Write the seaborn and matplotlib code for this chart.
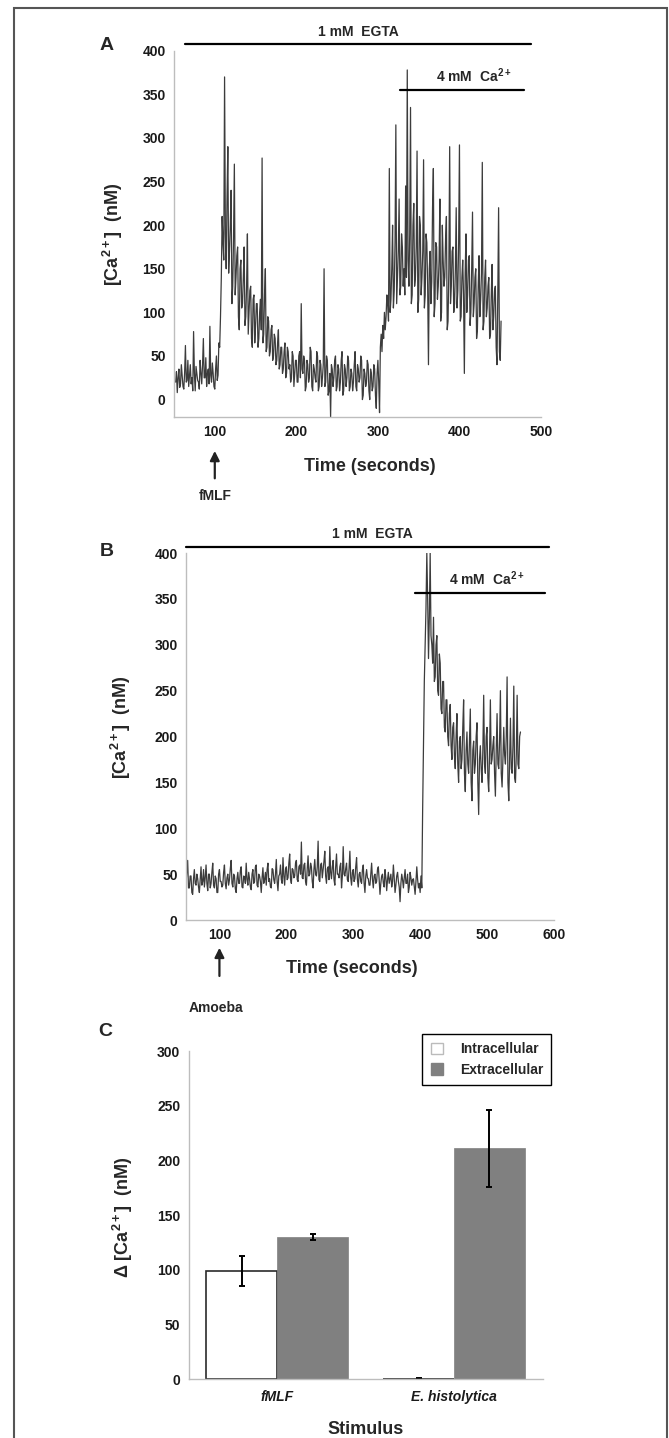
import matplotlib
matplotlib.use("Agg")
import matplotlib.pyplot as plt
from matplotlib.patches import Patch, Rectangle
import numpy as np
import pandas as pd
import seaborn as sns

# =============================================================================
# DATA
# =============================================================================
# Panel A: fMLF trace, one value per second starting at 52 s (20 s per row)
A_T0, A_STEP = 52, 1.0
ca_fmlf = [
    20, 32, 8, 25, 35, 14, 18, 40, 28, 15, 12, 30, 62, 20, 22, 45, 15, 28, 40, 18,            # 52
    25, 10, 78, 30, 10, 38, 30, 22, 20, 12, 45, 30, 18, 40, 70, 25, 25, 48, 15, 30,           # 72
    35, 18, 84, 28, 20, 42, 30, 15, 12, 35, 50, 22, 28, 65, 60, 95, 140, 210, 180, 160,       # 92
    370, 190, 150, 230, 290, 145, 170, 200, 240, 110, 130, 185, 270, 120, 140, 165, 175, 95, 80, 150,  # 112
    160, 105, 110, 140, 175, 85, 95, 130, 190, 75, 100, 125, 130, 70, 60, 115, 120, 65, 85, 110,       # 132
    110, 60, 70, 100, 115, 80, 277, 65, 75, 120, 150, 55, 60, 95, 90, 50, 55, 80, 85, 45,     # 152
    50, 75, 70, 40, 45, 65, 80, 35, 40, 60, 60, 30, 35, 55, 65, 25, 30, 60, 55, 35,           # 172
    40, 20, 25, 55, 50, 15, 30, 45, 45, 20, 20, 50, 55, 25, 110, 35, 30, 50, 45, 10,          # 192
    15, 45, 40, 20, 25, 60, 55, 15, 10, 40, 35, 25, 20, 55, 50, 10, 15, 45, 40, 15,           # 212
    25, 40, 150, 15, 20, 50, 45, 5, 10, 30, -20, 40, 35, 15, 25, 45, 50, 10, 15, 40,          # 232
    35, 10, 20, 45, 55, 5, 10, 40, 35, 15, 25, 50, 45, 10, 15, 35, 30, 10, 20, 40,            # 252
    55, 15, 10, 40, 35, 20, 25, 50, 45, 0, 5, 35, 30, 15, 20, 45, 40, 10, 0, 35,              # 272
    30, 10, 15, 40, 35, 5, -10, 30, 45, 20, -15, 60, 75, 55, 85, 70, 100, 80, 95, 120,        # 292
    110, 90, 265, 100, 115, 150, 200, 105, 125, 180, 315, 110, 140, 170, 230, 120, 130, 190, 175, 130,  # 312
    150, 120, 245, 140, 378, 160, 130, 190, 335, 110, 120, 200, 225, 130, 140, 175, 285, 100, 115, 210,  # 332
    200, 120, 140, 170, 275, 105, 120, 190, 180, 130, 40, 150, 170, 110, 135, 220, 265, 95, 110, 180,   # 352
    175, 115, 130, 160, 230, 90, 100, 200, 160, 130, 140, 185, 210, 80, 90, 150, 290, 110, 130, 170,    # 372
    175, 100, 110, 150, 220, 105, 125, 180, 292, 90, 95, 140, 160, 120, 30, 145, 190, 100, 120, 160,    # 392
    165, 85, 100, 150, 215, 95, 110, 140, 150, 70, 80, 130, 165, 95, 115, 145, 272, 80, 90, 140,        # 412
    160, 95, 105, 130, 140, 70, 75, 120, 155, 80, 95, 125, 130, 60, 40, 120, 220, 55, 45, 90,           # 432
]

# Panel B: amoeba trace, one value every 1.25 s starting at 50 s (20 s per row)
B_T0, B_STEP = 50, 1.25
ca_amoeba = [
    40, 52, 65, 35, 35, 48, 48, 30, 28, 45, 55, 40, 38, 50, 45, 36,           # 50
    30, 44, 58, 38, 42, 55, 36, 46, 60, 40, 32, 50, 50, 35, 40, 52,           # 70
    62, 38, 35, 48, 45, 30, 30, 50, 55, 42, 42, 36, 38, 52, 60, 40,           # 90
    34, 46, 50, 38, 44, 56, 65, 40, 36, 50, 48, 34, 30, 45, 52, 40,           # 110
    40, 54, 58, 36, 35, 48, 47, 40, 62, 44, 38, 52, 45, 36, 33, 50,           # 130
    55, 40, 42, 58, 60, 38, 36, 50, 48, 42, 30, 46, 57, 40, 44, 52,           # 150
    38, 55, 62, 42, 45, 36, 35, 56, 55, 44, 40, 50, 66, 42, 32, 48,           # 170
    50, 60, 44, 40, 68, 48, 38, 55, 58, 44, 46, 62, 72, 45, 40, 56,           # 190
    55, 46, 48, 62, 65, 44, 42, 58, 60, 50, 85, 46, 45, 60, 62, 42,           # 210
    38, 56, 70, 48, 50, 62, 58, 42, 35, 55, 66, 50, 48, 58, 86, 44,           # 230
    42, 60, 62, 46, 55, 64, 75, 48, 40, 56, 58, 44, 80, 52, 45, 58,           # 250
    65, 44, 38, 58, 72, 50, 50, 46, 58, 62, 35, 48, 80, 50, 48, 56,           # 270
    62, 44, 42, 56, 75, 46, 38, 52, 55, 42, 45, 58, 68, 44, 36, 50,           # 290
    52, 42, 40, 55, 60, 40, 30, 48, 55, 46, 45, 38, 38, 50, 62, 44,           # 310
    35, 48, 50, 40, 42, 55, 58, 44, 28, 40, 48, 50, 40, 36, 55, 46,           # 330
    32, 44, 52, 40, 45, 50, 36, 42, 60, 46, 30, 38, 48, 52, 42, 36,           # 350
    20, 40, 50, 44, 35, 46, 55, 40, 40, 50, 30, 36, 52, 46, 38, 44,           # 370
    45, 36, 28, 42, 58, 44, 35, 40, 30, 48, 35, 120, 190, 260, 300, 340,      # 390
    400, 350, 285, 330, 400, 310, 300, 280, 330, 260, 265, 300, 310, 250, 245, 290,   # 410
    280, 230, 225, 260, 260, 210, 205, 240, 240, 200, 190, 225, 235, 190, 175, 210,   # 430
    215, 180, 165, 200, 225, 170, 150, 195, 200, 165, 175, 210, 240, 160, 140, 185,   # 450
    205, 170, 160, 195, 230, 150, 130, 185, 195, 160, 170, 200, 215, 150, 115, 175,   # 470
    190, 165, 150, 185, 245, 170, 160, 200, 210, 155, 140, 180, 240, 170, 175, 190,   # 490
    200, 160, 135, 185, 225, 170, 165, 195, 250, 160, 145, 175, 210, 180, 170, 200,   # 510
    265, 150, 130, 175, 220, 165, 160, 190, 255, 155, 150, 180, 245, 170, 165, 200,   # 530
    205,                                                                              # 550
]

# treatment periods (seconds)
egta_a, calcium_a = (63, 488), (327, 479)
egta_b, calcium_b = (50, 593), (393, 586)

# Panel C: summary bars
stimuli = ["fMLF", "E. histolytica"]
sources = ["Intracellular", "Extracellular"]
delta_intra = [99, 0]
delta_intra_err = [13.5, 0.5]
delta_extra = [130, 211]
delta_extra_err = [2.5, 35]

# =============================================================================
# STYLE
# =============================================================================
sns.set_style("white")
plt.rcParams["font.family"] = ["Liberation Sans", "DejaVu Sans"]
plt.rcParams["font.weight"] = "bold"
plt.rcParams["axes.labelweight"] = "bold"
plt.rcParams["mathtext.fontset"] = "custom"
plt.rcParams["mathtext.rm"] = "Liberation Sans:bold"
plt.rcParams["mathtext.bf"] = "Liberation Sans:bold"
plt.rcParams["mathtext.it"] = "Liberation Sans:bold:italic"
plt.rcParams["mathtext.default"] = "bf"

SPINE = "#bdbdbd"
TRACE = "#3c3c3c"
CA_LABEL = r"[Ca$^{2+}$]  (nM)"


def style_axis(ax):
    for side in ["top", "right"]:
        ax.spines[side].set_visible(False)
    for side in ["left", "bottom"]:
        ax.spines[side].set_color(SPINE)
        ax.spines[side].set_linewidth(1.0)
    ax.tick_params(direction="in", length=4, width=1, color=SPINE,
                   labelsize=10, labelcolor="#1a1a1a", pad=6)
    for lab in ax.get_xticklabels() + ax.get_yticklabels():
        lab.set_fontweight("bold")


fig = plt.figure(figsize=(6.69, 14.38), dpi=100)

# =============================================================================
# PANEL A
# =============================================================================
ax_a = fig.add_axes([0.2601, 0.7100, 0.5486, 0.2547])
t_a = A_T0 + A_STEP * np.arange(len(ca_fmlf))
sns.lineplot(x=t_a, y=ca_fmlf, ax=ax_a, color=TRACE, lw=0.9)
ax_a.set_xlim(50, 500)
ax_a.set_ylim(-20, 400)
ax_a.set_xticks([100, 200, 300, 400, 500])
ax_a.set_yticks(np.arange(0, 401, 50))
style_axis(ax_a)
ax_a.set_xlabel("Time (seconds)", fontsize=13)
ax_a.xaxis.set_label_coords(0.534, -0.112)
ax_a.set_ylabel(CA_LABEL, fontsize=13)
ax_a.yaxis.set_label_coords(-0.134, 0.50)

ax_a.plot(egta_a, [407.5, 407.5], color="black", lw=1.6, clip_on=False)
ax_a.text(np.mean(egta_a), 413, "1 mM  EGTA", ha="center", va="bottom",
          fontsize=10, fontweight="bold")
ax_a.plot(calcium_a, [355, 355], color="black", lw=1.6, clip_on=False)
ax_a.text(418, 361, r"4 mM  Ca$^{2+}$", ha="center", va="bottom",
          fontsize=10, fontweight="bold")
ax_a.annotate("", xy=(100, -0.085), xytext=(100, -0.175),
              xycoords=("data", "axes fraction"),
              arrowprops=dict(arrowstyle="-|>", color="#222222", lw=1.6,
                              mutation_scale=14))
ax_a.text(100, -0.215, "fMLF", transform=ax_a.get_xaxis_transform(),
          ha="center", va="center", fontsize=10, fontweight="bold")

# =============================================================================
# PANEL B
# =============================================================================
ax_b = fig.add_axes([0.2780, 0.3602, 0.5500, 0.2552])
t_b = B_T0 + B_STEP * np.arange(len(ca_amoeba))
sns.lineplot(x=t_b, y=ca_amoeba, ax=ax_b, color=TRACE, lw=0.9)
ax_b.set_xlim(50, 600)
ax_b.set_ylim(0, 400)
ax_b.set_xticks([100, 200, 300, 400, 500, 600])
ax_b.set_yticks(np.arange(0, 401, 50))
style_axis(ax_b)
ax_b.set_xlabel("Time (seconds)", fontsize=13)
ax_b.xaxis.set_label_coords(0.45, -0.109)
ax_b.set_ylabel(CA_LABEL, fontsize=13)
ax_b.yaxis.set_label_coords(-0.144, 0.526)

ax_b.plot(egta_b, [406.5, 406.5], color="black", lw=1.6, clip_on=False)
ax_b.text(329, 413, "1 mM  EGTA", ha="center", va="bottom",
          fontsize=10, fontweight="bold")
ax_b.plot(calcium_b, [356, 356], color="black", lw=1.6, clip_on=False)
ax_b.text(500, 362, r"4 mM  Ca$^{2+}$", ha="center", va="bottom",
          fontsize=10, fontweight="bold")
ax_b.annotate("", xy=(100, -0.068), xytext=(100, -0.16),
              xycoords=("data", "axes fraction"),
              arrowprops=dict(arrowstyle="-|>", color="#222222", lw=1.6,
                              mutation_scale=14))
ax_b.text(95, -0.24, "Amoeba", transform=ax_b.get_xaxis_transform(),
          ha="center", va="center", fontsize=10, fontweight="bold")

# =============================================================================
# PANEL C
# =============================================================================
ax_c = fig.add_axes([0.2820, 0.0410, 0.5290, 0.2281])
df = pd.DataFrame({
    "Stimulus": stimuli * 2,
    "Source": [sources[0]] * 2 + [sources[1]] * 2,
    "delta": delta_intra + delta_extra,
    "err": delta_intra_err + delta_extra_err,
})
sns.barplot(data=df, x="Stimulus", y="delta", hue="Source", order=stimuli,
            hue_order=sources, palette={"Intracellular": "white",
                                        "Extracellular": "#808080"},
            errorbar=None, width=0.8, ax=ax_c, legend=False)
# outline white bars, gray bars borderless; then error bars at bar centres
n = len(stimuli)
for i, bar in enumerate(ax_c.patches[: 2 * n]):
    if i < n:
        bar.set_edgecolor("#2a2a2a")
        bar.set_linewidth(1.2)
    else:
        bar.set_edgecolor("#808080")
        bar.set_linewidth(0.5)
    errs = delta_intra_err if i < n else delta_extra_err
    vals = delta_intra if i < n else delta_extra
    ax_c.errorbar(bar.get_x() + bar.get_width() / 2, vals[i % n],
                  yerr=errs[i % n], color="black", lw=1.4, capsize=2.5,
                  capthick=1.4)

ax_c.set_xlim(-0.5, 1.5)
ax_c.set_ylim(0, 300)
ax_c.set_yticks(np.arange(0, 301, 50))
style_axis(ax_c)
ax_c.set_xticks([0, 1])
ax_c.set_xticklabels(stimuli, fontstyle="italic", fontweight="bold",
                     fontsize=10)
ax_c.tick_params(axis="x", which="major", length=0, pad=8)
ax_c.set_xticks([0.5, 1.5], minor=True)
ax_c.tick_params(axis="x", which="minor", direction="in", length=4,
                 width=1, color=SPINE)
ax_c.set_xlabel("Stimulus", fontsize=13)
ax_c.xaxis.set_label_coords(0.5, -0.127)
ax_c.set_ylabel(r"Δ [Ca$^{2+}$]  (nM)", fontsize=13)
ax_c.yaxis.set_label_coords(-0.152, 0.494)

handles = [Patch(facecolor="white", edgecolor="#bbbbbb", lw=1),
           Patch(facecolor="#808080", edgecolor="#808080")]
leg = ax_c.legend(handles, sources, loc="upper right",
                  bbox_to_anchor=(1.025, 1.052), borderaxespad=0,
                  fancybox=False, framealpha=1, edgecolor="black",
                  prop={"weight": "bold", "size": 10},
                  handlelength=0.9, handleheight=0.9, handletextpad=1.2,
                  labelspacing=0.45, borderpad=0.6)
leg.get_frame().set_linewidth(1.0)

# =============================================================================
# PANEL LETTERS AND FRAME
# =============================================================================
fig.text(107 / 669, 1 - 46 / 1438, "A", fontsize=14, fontweight="bold",
         ha="center", va="center")
fig.text(107 / 669, 1 - 552 / 1438, "B", fontsize=14, fontweight="bold",
         ha="center", va="center")
fig.text(105 / 669, 1 - 1032 / 1438, "C", fontsize=14, fontweight="bold",
         ha="center", va="center")
fig.add_artist(Rectangle((14 / 669, -0.01), (667 - 14) / 669,
                         1.01 - 8 / 1438, transform=fig.transFigure,
                         fill=False, edgecolor="#555555", lw=1.5))

fig.savefig("out.png", dpi=100)
